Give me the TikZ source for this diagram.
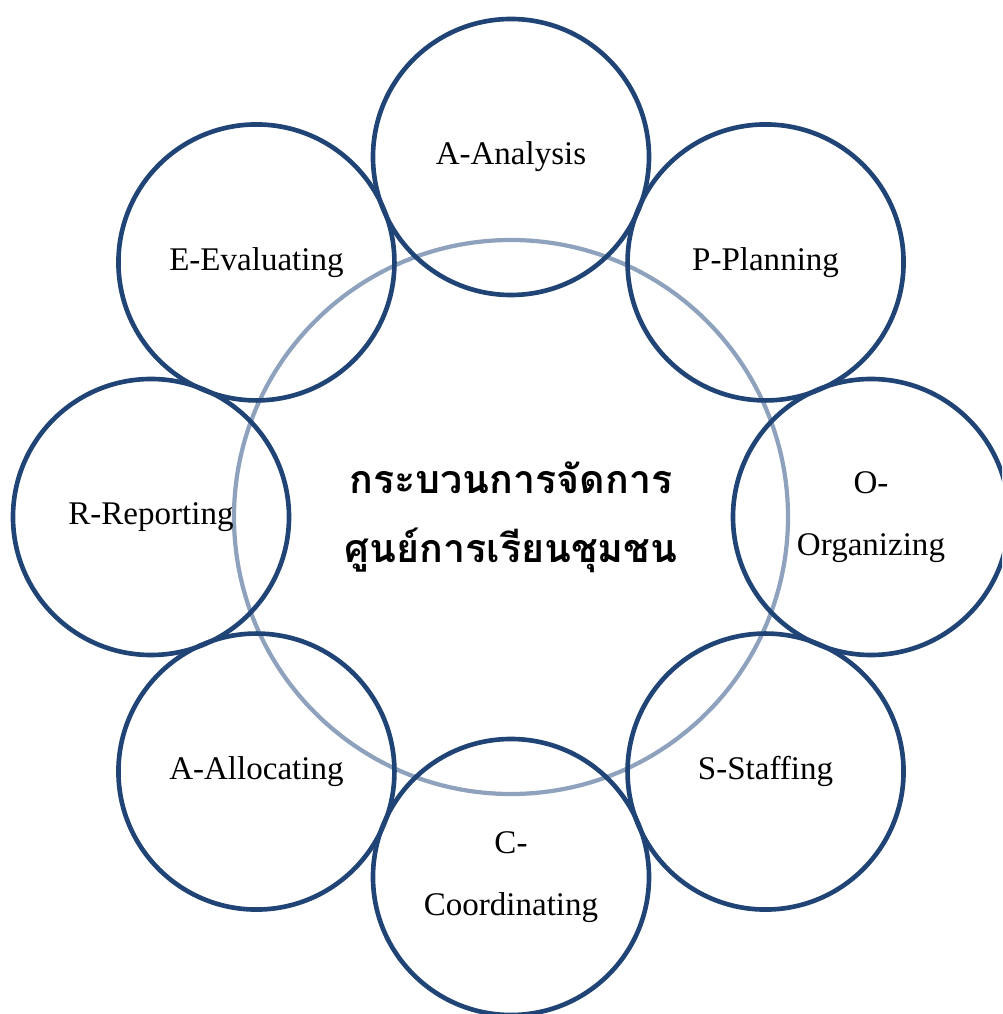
\documentclass[tikz,border=0pt]{standalone}
\usepackage{fontspec}
\setmainfont{Liberation Serif}
\newfontfamily\thaifont[Script=Thai]{Loma}
\usetikzlibrary{positioning}
\definecolor{navy}{RGB}{31,68,117}
\definecolor{haze}{RGB}{142,161,189}
\tikzset{
  stage/.style={circle,draw=navy,line width=3.3pt,minimum size=6.9cm,inner sep=0pt,
    align=center,font=\fontsize{23.5}{44}\selectfont},
  hub/.style={circle,draw=haze,line width=3pt,minimum size=13.85cm,inner sep=0pt,
    align=center,font=\thaifont\bfseries\fontsize{28}{49}\selectfont},
}
\begin{document}
\begin{tikzpicture}
  \useasboundingbox (-12.775,-12.425) rectangle (12.275,12.925);
  \clip (-12.775,-12.425) rectangle (12.275,12.925);
  % centre
  \node[hub] (hub) at (0,0) {กระบวนการจัดการ\\ศูนย์การเรียนชุมชน};
  % ring of stages
  \foreach \t/\a [count=\i] in {A-Analysis/90,P-Planning/45,{O-\\Organizing}/0,S-Staffing/-45,
    {C-\\Coordinating}/-90,A-Allocating/-135,R-Reporting/180,E-Evaluating/135}{
    \node[stage] (s\i) at (\a:9cm) {\t};
  }
\end{tikzpicture}
\end{document}
